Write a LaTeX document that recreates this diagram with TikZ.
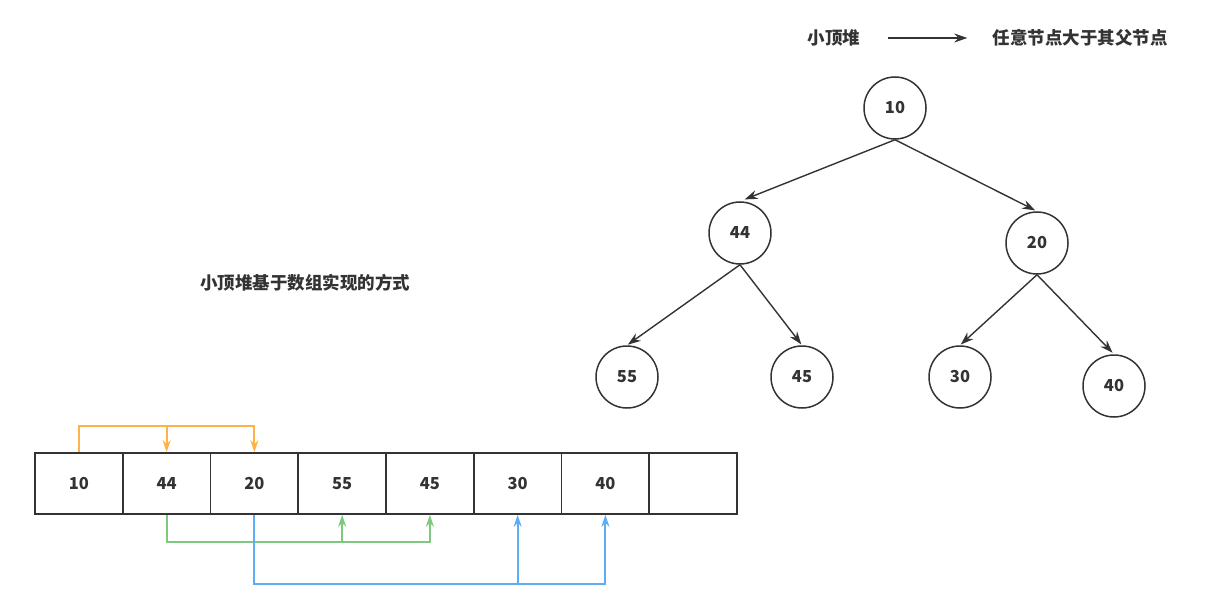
\documentclass[tikz,border=0pt]{standalone}
\usepackage{fontspec}
\newfontfamily\cjk{Noto Sans CJK SC}
\usetikzlibrary{arrows.meta}

\definecolor{inkgray}{HTML}{333333}
\definecolor{heaporange}{HTML}{FFB347}
\definecolor{heapgreen}{HTML}{7FC97F}
\definecolor{heapblue}{HTML}{5CADF5}

\tikzset{
  label text/.style={font=\cjk\bfseries\fontsize{17.5}{20}\selectfont, text=inkgray, inner sep=0pt},
  heapnode/.style={circle, draw=inkgray, line width=1.5pt, minimum size=62pt, inner sep=0pt,
    font=\cjk\bfseries\fontsize{16.5}{18}\selectfont, text=inkgray},
  cell/.style={draw=inkgray, line width=1.6pt, minimum width=87.75pt, minimum height=61pt,
    inner sep=0pt, font=\cjk\bfseries\fontsize{16.5}{18}\selectfont, text=inkgray},
  tree arrow/.style={draw=inkgray, line width=1.4pt, -{Stealth[length=13pt,width=9pt]}},
  index arrow/.style={line width=1.9pt, -{Stealth[length=12pt,width=8pt]}},
}

\begin{document}
\begin{tikzpicture}[x=1pt,y=-1pt]
\useasboundingbox (0,0) rectangle (1228,612);

% heading
\node[label text] (small) at (834,38) {小顶堆};
\node[label text] (rule) at (1080,38) {任意节点大于其父节点};
\draw[tree arrow] ([xshift=28pt]small.east) -- ([xshift=-25pt]rule.west);

% the heap as a tree
\node[heapnode] (n10) at (895,108) {10};
\node[heapnode] (n44) at (740,233) {44};
\node[heapnode] (n20) at (1037,243) {20};
\node[heapnode] (n55) at (627,377) {55};
\node[heapnode] (n45) at (802,377) {45};
\node[heapnode] (n30) at (960,377) {30};
\node[heapnode] (n40) at (1114,386) {40};

\draw[tree arrow, shorten >=5pt] (n10.south) -- (n44.north);
\draw[tree arrow, shorten >=2pt] (n10.south) -- (n20.north);
\draw[tree arrow, shorten >=1pt] (n44.south) -- (n55.north);
\draw[tree arrow, shorten >=1pt] (n44.south) -- (n45.north);
\draw[tree arrow, shorten >=1pt] (n20.south) -- (n30.north);
\draw[tree arrow, shorten >=2pt] (n20.south) -- (n40.north);

% the heap as an array
\node[label text] (caption) at (305,283) {小顶堆基于数组实现的方式};
\foreach \v [count=\i from 0] in {10,44,20,55,45,30,40,{}}
  \node[cell] (a\i) at ({78.9+87.75*\i},483.5) {\v};

% root -> children
\draw[index arrow, heaporange] (a0.north) -- ++(0,-26) -| (a2.north);
\draw[index arrow, heaporange] ([yshift=26pt]a1.north) -- (a1.north);

% 44 -> children
\draw[index arrow, heapgreen] (a1.south) -- ++(0,27) -| (a4.south);
\draw[index arrow, heapgreen] ([yshift=-27pt]a3.south) -- (a3.south);

% 20 -> children
\draw[index arrow, heapblue] (a2.south) -- ++(0,69) -| (a6.south);
\draw[index arrow, heapblue] ([yshift=-69pt]a5.south) -- (a5.south);
\end{tikzpicture}
\end{document}
